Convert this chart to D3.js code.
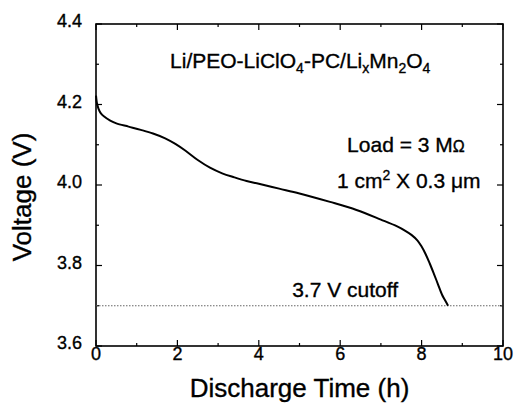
<!DOCTYPE html>
<html>
<head>
<meta charset="utf-8">
<script src="https://cdn.jsdelivr.net/npm/d3@7"></script>
<style>
  body { margin: 0; background: #fff; }
  text { font-family: "Liberation Sans", Arial, Helvetica, sans-serif; fill: #000; stroke: #000; stroke-width: 0.35px; }
</style>
</head>
<body>
<div id="chart"></div>
<script>
// discharge curve
const timeH = [0, 0.02, 0.06, 0.12, 0.2, 0.35, 0.5, 0.8, 1.1, 1.4, 1.7, 1.95, 2.2, 2.5, 2.8, 3.1, 3.4, 3.7, 4.0, 4.5, 5.0, 5.75, 6.4, 7.0, 7.4, 7.6, 7.75, 7.9, 8.0, 8.1, 8.2, 8.3, 8.4, 8.5, 8.58, 8.65];
const voltage = [4.222, 4.205, 4.19, 4.178, 4.17, 4.16, 4.153, 4.145, 4.137, 4.128, 4.116, 4.102, 4.085, 4.062, 4.043, 4.029, 4.019, 4.010, 4.003, 3.991, 3.979, 3.958, 3.938, 3.914, 3.897, 3.886, 3.876, 3.862, 3.847, 3.828, 3.805, 3.780, 3.754, 3.728, 3.713, 3.700];
const xTicks = [0, 2, 4, 6, 8, 10];
const xMinor = [1, 3, 5, 7, 9];
const yTicks = [3.6, 3.8, 4.0, 4.2, 4.4];
const yMinor = [3.7, 3.9, 4.1, 4.3];
const cutoff = 3.7;

const width = 516, height = 415;
const margin = { top: 24, right: 13, bottom: 69, left: 96 };

const svg = d3.select("#chart").append("svg")
  .attr("width", width)
  .attr("height", height);

const x = d3.scaleLinear().domain([0, 10]).range([margin.left, width - margin.right]);
const y = d3.scaleLinear().domain([3.6, 4.4]).range([height - margin.bottom, margin.top]);

const x0 = x.range()[0], x1 = x.range()[1];
const y0 = y.range()[0], y1 = y.range()[1];

// ticks pointing inward on all four sides
const tickGroup = svg.append("g").attr("stroke", "#000").attr("stroke-width", 1.2);
const addXTicks = (vals, len) => {
  vals.forEach(v => {
    tickGroup.append("line").attr("x1", x(v)).attr("x2", x(v)).attr("y1", y0).attr("y2", y0 - len);
    tickGroup.append("line").attr("x1", x(v)).attr("x2", x(v)).attr("y1", y1).attr("y2", y1 + len);
  });
};
const addYTicks = (vals, len) => {
  vals.forEach(v => {
    tickGroup.append("line").attr("y1", y(v)).attr("y2", y(v)).attr("x1", x0).attr("x2", x0 + len);
    tickGroup.append("line").attr("y1", y(v)).attr("y2", y(v)).attr("x1", x1).attr("x2", x1 - len);
  });
};
addXTicks(xTicks, 6);
addXTicks(xMinor, 3);
addYTicks(yTicks, 6);
addYTicks(yMinor, 3);

// frame
svg.append("rect")
  .attr("x", x0).attr("y", y1)
  .attr("width", x1 - x0).attr("height", y0 - y1)
  .attr("fill", "none").attr("stroke", "#000").attr("stroke-width", 1.6);

// tick labels
svg.append("g").selectAll("text")
  .data(xTicks).enter().append("text")
  .attr("x", d => x(d)).attr("y", y0 + 14)
  .attr("text-anchor", "middle")
  .attr("font-size", 18)
  .text(d => d);

svg.append("g").selectAll("text")
  .data(yTicks).enter().append("text")
  .attr("x", x0 - 14).attr("y", d => y(d) + 3)
  .attr("text-anchor", "end")
  .attr("font-size", 18)
  .text(d => d.toFixed(1));

// axis titles
svg.append("text")
  .attr("x", (x0 + x1) / 2).attr("y", 397)
  .attr("text-anchor", "middle")
  .attr("font-size", 26)
  .text("Discharge Time (h)");

svg.append("text")
  .attr("transform", `translate(31, ${(y0 + y1) / 2 + 12}) rotate(-90)`)
  .attr("text-anchor", "middle")
  .attr("font-size", 26)
  .text("Voltage (V)");

// cutoff line
svg.append("line")
  .attr("x1", x0).attr("x2", x1)
  .attr("y1", y(cutoff)).attr("y2", y(cutoff))
  .attr("stroke", "#666").attr("stroke-width", 1)
  .attr("stroke-dasharray", "1.5,1.5");

// discharge curve
const line = d3.line()
  .x((d, i) => x(timeH[i]))
  .y(d => y(d))
  .curve(d3.curveCatmullRom.alpha(0.5));

svg.append("path")
  .datum(voltage)
  .attr("d", line)
  .attr("fill", "none")
  .attr("stroke", "#000")
  .attr("stroke-width", 2);

// annotations
const cell = svg.append("text")
  .attr("x", x(1.82)).attr("y", y(4.29))
  .attr("font-size", 21);
cell.append("tspan").text("Li/PEO-LiClO");
cell.append("tspan").attr("font-size", 14).attr("dy", 5).text("4");
cell.append("tspan").attr("dy", -5).text("-PC/Li");
cell.append("tspan").attr("font-size", 14).attr("dy", 5).text("x");
cell.append("tspan").attr("dy", -5).text("Mn");
cell.append("tspan").attr("font-size", 14).attr("dy", 5).text("2");
cell.append("tspan").attr("dy", -5).text("O");
cell.append("tspan").attr("font-size", 14).attr("dy", 5).text("4");

const load = svg.append("text")
  .attr("x", x(6.17)).attr("y", y(4.082))
  .attr("font-size", 21);
load.append("tspan").text("Load = 3 M");
load.append("tspan").attr("font-size", 16).text("Ω");

const area = svg.append("text")
  .attr("x", x(5.92)).attr("y", y(3.993))
  .attr("font-size", 21);
area.append("tspan").text("1 cm");
area.append("tspan").attr("font-size", 14).attr("dy", -8).text("2");
area.append("tspan").attr("dy", 8).text(" X 0.3 μm");

svg.append("text")
  .attr("x", x(4.82)).attr("y", y(3.722))
  .attr("font-size", 21)
  .text("3.7 V cutoff");
</script>
</body>
</html>
